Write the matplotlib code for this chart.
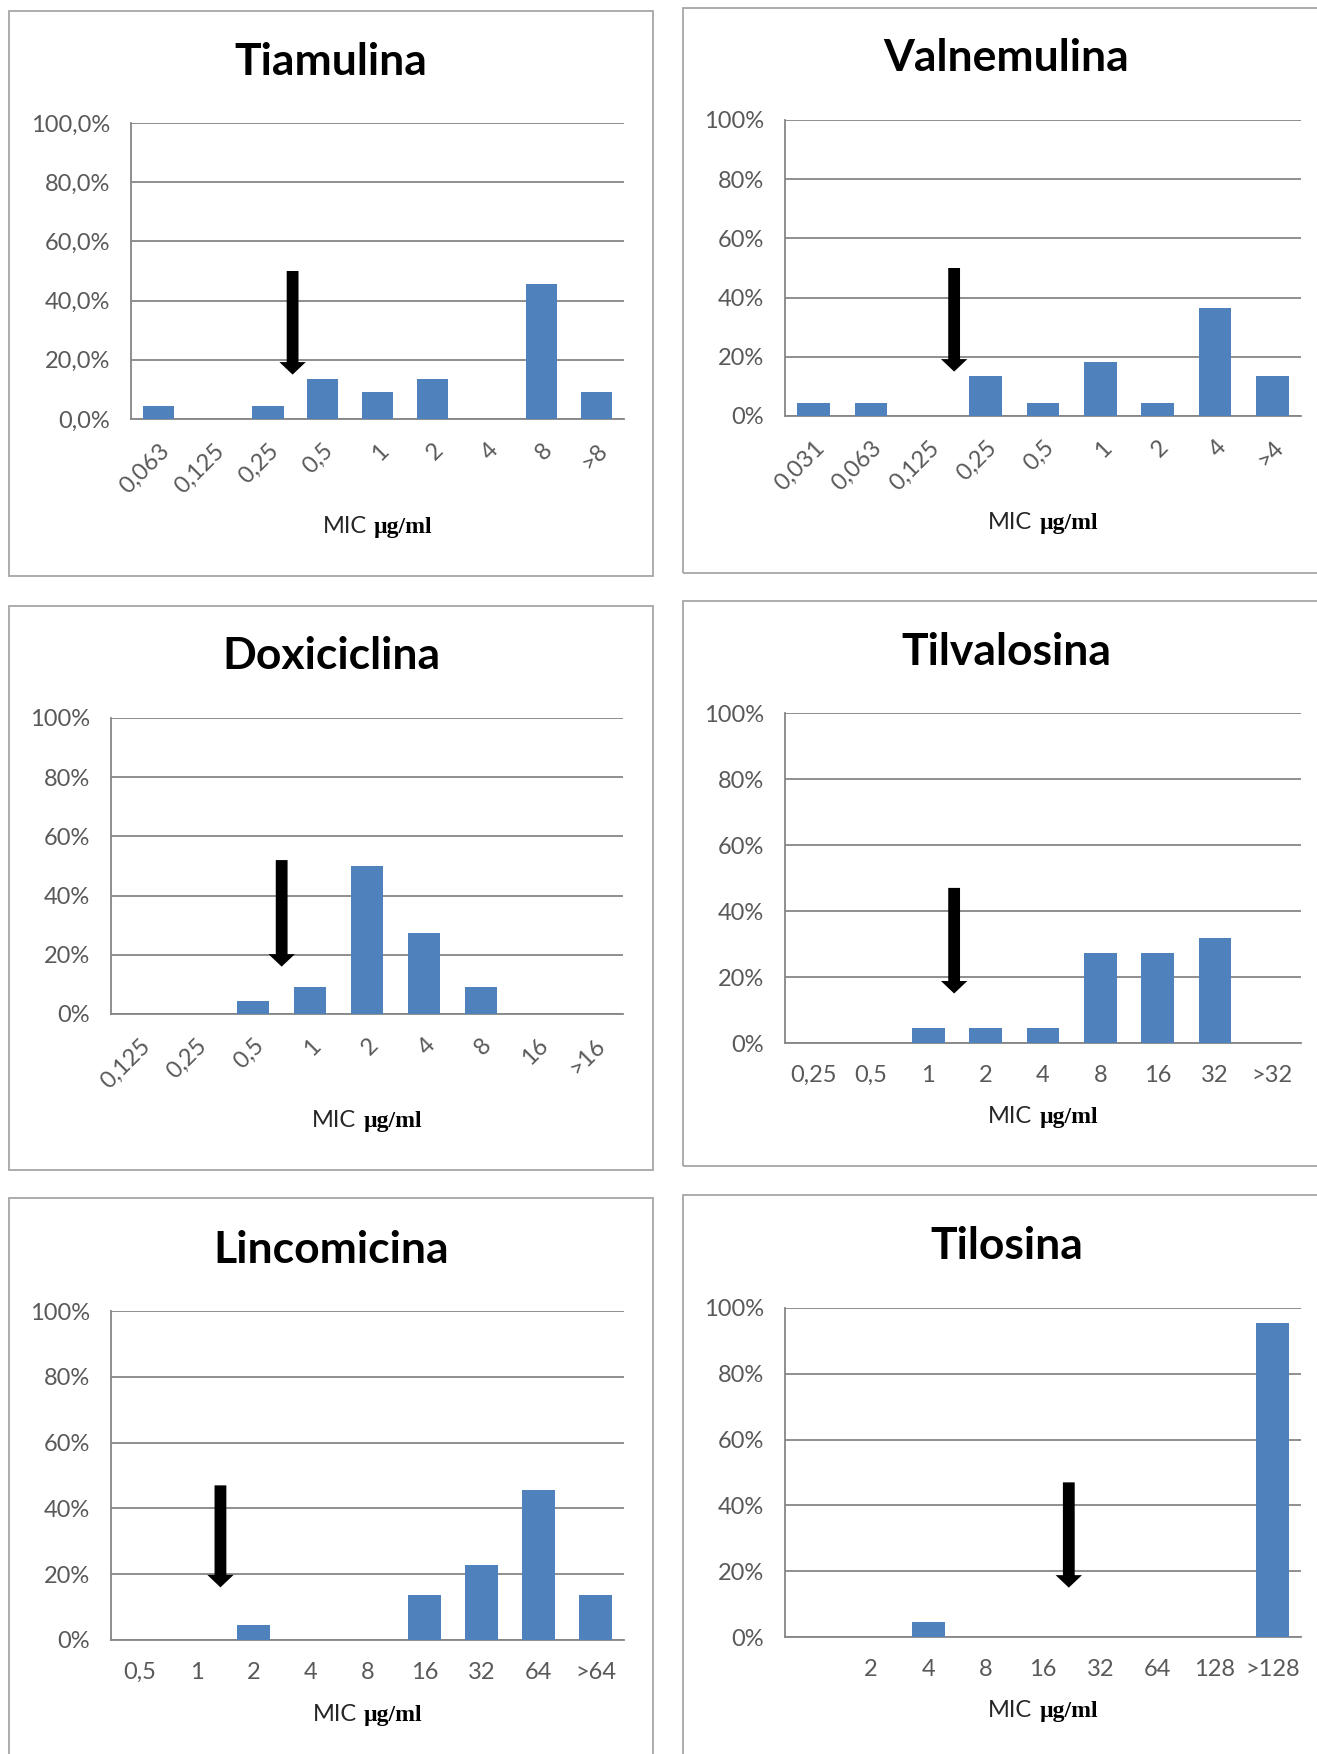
import numpy as np
import matplotlib
matplotlib.use("Agg")
from matplotlib import pyplot as plt
from matplotlib.patches import Rectangle
from matplotlib.offsetbox import TextArea, HPacker, AnnotationBbox

plt.rcParams['font.family'] = ['Lato', 'DejaVu Sans']

W, H = 1317, 1754

titles = ["Tiamulina", "Valnemulina", "Doxiciclina", "Tilvalosina", "Lincomicina", "Tilosina"]

cats_tia = ["0,063", "0,125", "0,25", "0,5", "1", "2", "4", "8", ">8"]
vals_tia = [4.5, 0, 4.5, 13.6, 9.1, 13.6, 0, 45.5, 9.1]

cats_val = ["0,031", "0,063", "0,125", "0,25", "0,5", "1", "2", "4", ">4"]
vals_val = [4.5, 4.5, 0, 13.6, 4.5, 18.2, 4.5, 36.4, 13.6]

cats_dox = ["0,125", "0,25", "0,5", "1", "2", "4", "8", "16", ">16"]
vals_dox = [0, 0, 4.5, 9.1, 50.0, 27.3, 9.1, 0, 0]

cats_tvl = ["0,25", "0,5", "1", "2", "4", "8", "16", "32", ">32"]
vals_tvl = [0, 0, 4.5, 4.5, 4.5, 27.3, 27.3, 31.8, 0]

cats_lin = ["0,5", "1", "2", "4", "8", "16", "32", "64", ">64"]
vals_lin = [0, 0, 4.5, 0, 0, 13.6, 22.7, 45.5, 13.6]

cats_til = ["", "2", "4", "8", "16", "32", "64", "128", ">128"]
vals_til = [0, 0, 4.5, 0, 0, 0, 0, 0, 95.5]

# breakpoint arrows: category position, tail %, tip %
arrow_x = [2.45, 2.45, 2.5, 2.45, 1.42, 4.45]
arrow_tail = [50, 50, 52, 47, 47, 47]
arrow_tip = [15, 15, 16, 15, 16, 15]

cats = [cats_tia, cats_val, cats_dox, cats_tvl, cats_lin, cats_til]
vals = [vals_tia, vals_val, vals_dox, vals_tvl, vals_lin, vals_til]
rotated = [True, True, True, False, False, False]
ydec = [True, False, False, False, False, False]

# layout in pixels: axes (left, right, top, bottom), panel box, title y, xlabel y
ax_px = [(131, 624, 123, 419), (785, 1301, 120, 416),
         (111, 623, 718, 1014), (785, 1301, 713, 1043),
         (111, 624, 1311, 1640), (785, 1301, 1308, 1637)]
box_px = [(9, 11, 653, 576), (683, 8, 1340, 573),
          (9, 606, 653, 1170), (683, 601, 1340, 1166),
          (9, 1198, 653, 1790), (683, 1195, 1340, 1790)]
title_y = [62, 58, 656, 652, 1250, 1246]
xlab_y = [527, 523, 1121, 1117, 1715, 1711]

bar_c = "#4F81BD"
grid_c = "#868686"
tick_c = "#595959"
fs = 17

fig = plt.figure(figsize=(W / 100, H / 100), dpi=100)

for i in range(6):
    l, r, t, b = ax_px[i]
    bl, bt, br, bb = box_px[i]
    fig.patches.append(Rectangle((bl / W, 1 - bb / H), (br - bl) / W, (bb - bt) / H,
                                 transform=fig.transFigure, fill=False,
                                 ec="#a6a6a6", lw=1.3))
    cx = (bl + br) / 2 if i % 2 == 0 else (bl + 1330) / 2
    fig.text(cx / W, 1 - title_y[i] / H, titles[i],
             ha='center', va='center', fontsize=32, fontweight='bold', color='black')

    ax = fig.add_axes([l / W, 1 - b / H, (r - l) / W, (b - t) / H])
    x = np.arange(len(cats[i]))
    ax.bar(x, vals[i], width=0.57, color=bar_c, zorder=3)
    ax.set_xlim(-0.5, len(cats[i]) - 0.5)
    ax.set_ylim(0, 100)
    yt = [0, 20, 40, 60, 80, 100]
    ax.set_yticks(yt)
    if ydec[i]:
        ax.set_yticklabels(["%d,0%%" % v for v in yt])
    else:
        ax.set_yticklabels(["%d%%" % v for v in yt])
    ax.yaxis.grid(True, color=grid_c, lw=1.3, zorder=0)
    ax.set_axisbelow(True)
    for s in ['top', 'right']:
        ax.spines[s].set_visible(False)
    for s in ['left', 'bottom']:
        ax.spines[s].set_color(grid_c)
        ax.spines[s].set_linewidth(1.3)
    ax.tick_params(axis='y', length=0, pad=15, labelsize=fs, labelcolor=tick_c)
    ax.set_xticks(x)
    if rotated[i]:
        ax.set_xticklabels(cats[i], rotation=45, ha='right', va='top',
                           rotation_mode='anchor')
        ax.tick_params(axis='x', length=0, pad=15, labelsize=fs, labelcolor=tick_c)
    else:
        ax.set_xticklabels(cats[i])
        ax.tick_params(axis='x', length=0, pad=16, labelsize=fs, labelcolor=tick_c)

    ax.annotate('', xy=(arrow_x[i], arrow_tip[i]), xytext=(arrow_x[i], arrow_tail[i]),
                arrowprops=dict(arrowstyle='simple,head_length=9,head_width=19,tail_width=8.5',
                                mutation_scale=1, fc='black', ec='black', lw=0,
                                shrinkA=0, shrinkB=0), zorder=5)

    t1 = TextArea("MIC", textprops=dict(fontsize=fs, color="#262626"))
    t2 = TextArea("µg/ml", textprops=dict(fontsize=fs, color="black",
                                          family="Liberation Serif", weight='bold'))
    pack = HPacker(children=[t1, t2], sep=5, pad=0, align='baseline')
    yfrac = (b - xlab_y[i]) / (b - t)
    ab = AnnotationBbox(pack, (0.5, yfrac), xycoords='axes fraction',
                        frameon=False, box_alignment=(0.5, 0.5), annotation_clip=False)
    ax.add_artist(ab)

fig.savefig("out.png", dpi=100)
